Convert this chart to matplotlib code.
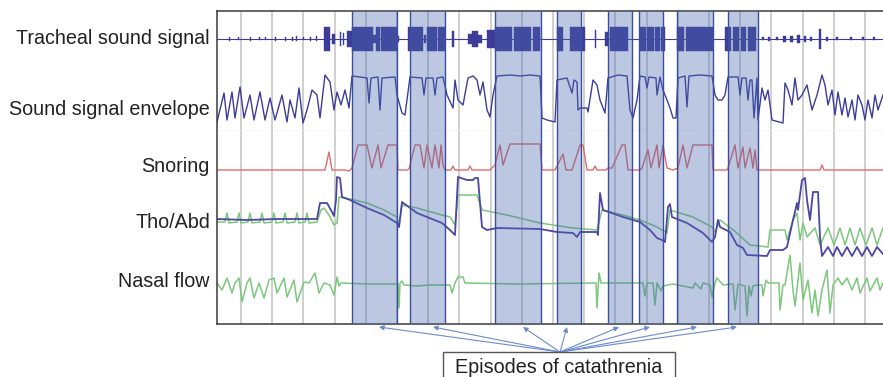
import numpy as np
import matplotlib.pyplot as plt
from matplotlib.patches import Rectangle

plt.rcParams["font.family"] = ["Liberation Sans", "DejaVu Sans"]

# time axis in seconds, one epoch grid line every 31.2 s
T_END = 666
EPOCH = 31.2

# catathrenia episodes (start, end)
episodes = [(135, 180), (193, 228), (278, 324), (340, 364),
            (391, 415), (422, 446), (460, 496), (511, 541)]
arrow_targets = [162, 216, 306, 350, 402, 433, 480, 520]

# tracheal sound: bursts (start, end, half amplitude)
sound_bursts = [
    (12, 13, 2), (21, 22, 1.5), (33, 34, 2), (42, 43, 1.5), (48, 49, 1.5),
    (58, 59, 2), (68, 69, 2), (75, 76, 2), (79, 80, 2.5), (86, 87, 1.5),
    (93, 94, 2), (99, 100, 2.5),
    (107, 113, 12), (115, 118, 5), (122.5, 123.5, 7), (126, 127, 6), (130, 135, 8),
    (135, 156, 12), (156, 159, 4), (159, 163, 12), (164, 180, 12), (180, 182, 3),
    (191, 206, 12), (207, 209, 4), (210, 220, 12), (221, 228, 12),
    (235, 236.5, 8),
    (251, 255, 5), (255, 261, 8), (261, 265, 4),
    (270, 278, 9), (278, 295, 12), (297, 314, 12), (316, 323, 12),
    (340, 346, 12), (353, 368, 12), (377.5, 379, 9), (388, 392, 7), (393, 411, 12),
    (423, 429, 12), (430, 437, 12), (438, 443, 12), (444, 448, 12),
    (460, 467, 12), (469, 496, 12),
    (508, 514, 12), (516, 522, 12), (524, 529, 12), (531, 539, 12),
    (545, 547, 1.5), (551, 553, 2), (559, 561, 1.5), (566, 569, 3), (573, 576, 3),
    (580, 583, 4), (587, 589, 3), (593, 595, 2), (602, 604, 10), (609, 611, 2),
    (619, 621, 1.5), (633, 635, 1.5), (645, 647, 1.5), (656, 658, 1.5),
]

# sound signal envelope (t, level)
envelope = [
    (0, 0), (7, 29), (10, 2), (15, 30), (18, 4), (23, 35), (27, 4), (33, 27), (37, 2),
    (43, 30), (48, 2), (53, 24), (58, 2), (65, 27), (70, 0), (73, 22), (78, 4), (82, 34),
    (86, -1), (90, 12), (95, 32), (100, 27), (103, 4), (108, 47), (113, 40), (117, 12),
    (120, 30), (124, 17), (128, 32), (132, 14), (135, 46), (143, 45), (150, 44), (152, 19),
    (154, 44), (161, 45), (163, 12), (165, 44), (178, 45), (180, 27), (185, 9), (188, 7),
    (193, 45), (205, 44), (207, 27), (209, 44), (216, 44), (218, 27), (220, 44), (226, 45),
    (230, 27), (236, 14), (238, 42), (241, 22), (246, 17), (251, 44), (256, 46), (260, 42),
    (263, 27), (266, 40), (270, 12), (273, 5), (276, 27), (280, 46), (293, 47), (303, 46),
    (313, 47), (323, 46), (325, 4), (330, 2), (338, 0), (340, 42), (350, 44), (355, 29),
    (357, 42), (360, 40), (361, 12), (363, 14), (370, 14), (371, 10), (376, 42), (380, 37),
    (383, 22), (388, 9), (391, 44), (401, 47), (410, 46), (413, 12), (416, 4), (420, 22),
    (423, 46), (428, 45), (430, 34), (432, 45), (439, 44), (440, 27), (443, 45), (446, 32),
    (450, 22), (453, 14), (456, 4), (459, 4), (461, 44), (468, 46), (470, 15), (472, 46),
    (483, 47), (495, 46), (498, 27), (501, 22), (505, 22), (508, 27), (511, 45), (521, 45),
    (523, 27), (525, 44), (529, 44), (531, 22), (533, 42), (535, 42), (537, 4), (540, 44),
    (541, 2), (545, 34), (548, 22), (551, 32), (555, 2), (566, -1), (568, 39), (571, 32),
    (575, 17), (578, 44), (581, 22), (585, 27), (590, 37), (595, 12), (600, 27), (605, 47),
    (608, 37), (611, 17), (615, 32), (618, 7), (621, 30), (625, 7), (628, 24), (631, 5),
    (635, 22), (638, 2), (641, 27), (645, 17), (648, 2), (651, 22), (655, 4), (658, 27),
    (661, 12), (666, 27),
]

# snoring detector output (t, level)
snoring = [
    (0, 0), (108, 0), (112, 18), (115, 0), (128, 0), (132, -1), (135, 2), (141, 25),
    (150, 25), (155, 2), (161, 25), (164, 2), (171, 25), (180, 25), (181, 0), (190, 0),
    (192, 1), (198, 25), (203, 25), (207, 2), (210, 25), (215, 2), (218, 25), (222, 2),
    (224, 25), (226, 5), (228, 0), (234, 0), (236, 4), (238, 0), (251, 0), (253, 4),
    (255, 0), (273, 0), (278, 5), (283, 25), (286, 5), (293, 26), (323, 26), (325, 0),
    (338, 0), (346, 16), (349, 0), (355, 0), (363, 25), (366, 25), (370, 0), (376, 0),
    (378, 4), (380, 0), (389, 0), (391, 2), (395, 2), (405, 25), (408, 25), (411, 0),
    (423, 0), (425, 2), (431, 20), (434, 2), (440, 25), (442, 2), (446, 25), (450, 2),
    (456, 0), (461, 2), (466, 25), (470, 2), (476, 25), (495, 25), (496, 0), (510, 0),
    (511, 2), (518, 25), (521, 2), (526, 23), (528, 2), (533, 22), (536, 2), (538, 20),
    (540, 0), (603, 0), (605, 5), (607, 0), (666, 0),
]

# thoracic effort (t, level)
thorax = [
    (0, 1), (30, 0), (60, 1), (100, 1), (103, 17), (110, 17), (115, 8), (117, 4),
    (119, 20), (120, 43), (123, 42), (125, 23), (133, 20), (150, 12), (167, 5), (180, -3),
    (182, -7), (185, 18), (200, 7), (225, -3), (233, -10), (238, -15), (241, 43), (250, 40),
    (256, 40), (258, 42), (261, 42), (265, -7), (270, -10), (280, -8), (323, -9), (340, -12),
    (356, -13), (360, -17), (363, -12), (380, -12), (381, -15), (383, 27), (386, 10),
    (406, 3), (423, -2), (433, -10), (440, -18), (445, -20), (448, -22), (451, 13),
    (453, 16), (455, 3), (470, -3), (486, -13), (495, -22), (498, -17), (501, 0), (503, -7),
    (513, -12), (520, -25), (526, -28), (530, -35), (550, -36), (553, -30), (566, -30),
    (570, -27), (576, 0), (580, 17), (581, 10), (585, 40), (588, 42), (590, 20), (593, 0),
    (596, 28), (601, 28), (603, -17), (605, -36), (611, -27), (616, -36), (620, -27),
    (625, -36), (630, -27), (635, -36), (640, -27), (645, -36), (650, -27), (655, -36),
    (660, -27), (666, -34),
]

# abdominal effort (t, level)
abdomen = [
    (0, -2), (8, -2), (10, 7), (12, -3), (20, -2), (22, 7), (24, -3), (31, -2), (33, 7),
    (35, -3), (43, -2), (45, 7), (47, -3), (55, -2), (57, 7), (59, -3), (66, -2), (68, 7),
    (70, -3), (78, -2), (80, 7), (82, -3), (88, -2), (90, 7), (92, -3), (100, -2),
    (104, 10), (107, 12), (112, 5), (117, -5), (120, -3), (122, 23), (133, 21), (150, 17),
    (167, 10), (180, 3), (182, -7), (185, 15), (200, 12), (225, 5), (233, 3), (238, -5),
    (241, 25), (260, 25), (265, 10), (290, 5), (323, -3), (356, -8), (380, -10), (385, 10),
    (406, 5), (423, 0), (440, -7), (445, -10), (450, -13), (453, 10), (476, 3), (495, -7),
    (498, -12), (503, 0), (520, -13), (533, -25), (551, -27), (553, -10), (568, -10),
    (570, -20), (576, 0), (580, 7), (583, -20), (586, -3), (590, -17), (598, -8),
    (603, -25), (611, -8), (617, -25), (623, -8), (628, -25), (633, -8), (638, -25),
    (643, -8), (649, -25), (655, -8), (660, -25), (666, -8),
]

# nasal airflow (t, level)
nasal = [
    (0, 0), (5, -7), (10, 5), (15, -10), (18, 0), (22, 5), (25, -19), (30, 0), (33, 5),
    (37, -15), (42, 0), (47, -15), (52, 3), (57, 5), (60, -10), (67, 5), (70, -14), (77, 3),
    (80, -19), (87, 1), (92, 0), (98, 10), (102, -10), (107, 0), (113, -2), (117, -12),
    (120, 6), (122, -3), (124, 0), (150, -1), (181, -1), (182, -25), (183, 0), (185, 2),
    (187, -2), (200, -3), (213, -2), (233, -2), (235, -10), (238, 0), (241, 6), (246, 6),
    (248, 0), (300, -1), (379, 0), (380, -25), (382, 10), (384, 0), (426, 0), (428, -13),
    (430, 0), (436, 0), (438, -22), (440, 0), (444, -8), (446, -3), (456, -1), (476, -5),
    (478, 0), (484, -6), (486, 0), (493, -2), (495, -14), (498, 0), (500, 5), (506, -2),
    (516, -1), (518, -27), (521, -1), (528, -3), (530, -33), (532, -3), (534, -13),
    (536, -3), (541, -2), (545, -2), (546, -13), (549, 3), (551, 0), (562, 0), (563, -27),
    (566, -2), (568, -2), (573, 28), (576, -7), (578, -23), (583, 20), (586, -17), (591, 3),
    (595, -30), (598, -7), (601, -33), (605, -7), (610, 13), (613, -30), (616, -2),
    (621, 5), (625, -2), (630, 5), (635, -7), (640, 5), (643, -10), (650, 5), (653, -8),
    (660, 5), (663, -7), (666, 0),
]

channel_names = ["Tracheal sound signal", "Sound signal envelope", "Snoring",
                 "Tho/Abd", "Nasal flow"]

# vertical offset of each channel
Y_SOUND, Y_ENV, Y_SNORE, Y_EFFORT, Y_NASAL = 285.5, 202, 154, 104, 41
label_baselines = [279.7, 209, 152.3, 95.7, 37.3]

C_BLUE = "#3d3d99"
C_THO = "#4c46a3"
C_GREEN = "#7cc77c"
C_RED = "#e26a6a"

fig = plt.figure(figsize=(8.83, 3.77), dpi=100)
ax = fig.add_axes([217 / 883, 53 / 377, 666 / 883, 313 / 377])
ax.set_xlim(0, T_END)
ax.set_ylim(0, 313)

# epoch grid
for x in np.arange(24, T_END, EPOCH):
    ax.axvline(x, color="#cbcbcb", lw=1.3, zorder=1)
ax.axhline(194, color="#ececec", lw=0.8, ls=":", zorder=1)

# tracheal sound bursts
ax.axhline(Y_SOUND, color=C_BLUE, lw=0.8, zorder=2)
b = np.array(sound_bursts)
ax.bar(b[:, 0], 2 * b[:, 2], width=b[:, 1] - b[:, 0], bottom=Y_SOUND - b[:, 2],
       align="edge", color=C_BLUE, edgecolor=C_BLUE, lw=0.3, zorder=2)

def trace(data, offset, color, lw):
    d = np.array(data, dtype=float)
    ax.plot(d[:, 0], d[:, 1] + offset, color=color, lw=lw, zorder=2,
            solid_joinstyle="round")

trace(envelope, Y_ENV, C_BLUE, 1.0)
trace(snoring, Y_SNORE, C_RED, 1.0)
trace(abdomen, Y_EFFORT, C_GREEN, 1.1)
trace(thorax, Y_EFFORT, C_THO, 1.3)
trace(nasal, Y_NASAL, C_GREEN, 1.1)

# catathrenia episodes
for s, e in episodes:
    ax.axvspan(s, e, facecolor="#4a68ae", alpha=0.37, edgecolor="none", zorder=3)
    ax.axvline(s, color="#3b4f9c", lw=1.0, zorder=3)
    ax.axvline(e, color="#3b4f9c", lw=1.0, zorder=3)

for spine in ["left", "top", "bottom"]:
    ax.spines[spine].set_color("#3a3a3a")
    ax.spines[spine].set_linewidth(1.1)
ax.spines["right"].set_visible(False)
ax.set_xticks([])
ax.set_yticks([])

for name, yb in zip(channel_names, label_baselines):
    ax.text(-7, yb, name, ha="right", va="baseline", fontsize=14.2,
            color="#222222", clip_on=False)

# annotation box with arrows to every episode
for xt in arrow_targets:
    ax.annotate("", xy=(xt, -3), xytext=(343, -28), annotation_clip=False,
                arrowprops=dict(arrowstyle="-|>", color="#6d8bcf", lw=0.8,
                                mutation_scale=7, shrinkA=0, shrinkB=0))
ax.add_patch(Rectangle((226, -75), 232, 47, facecolor="white",
                       edgecolor="#555555", lw=1.0, clip_on=False, zorder=4))
ax.text(342, -49.3, "Episodes of catathrenia", ha="center", va="baseline",
        fontsize=14.2, color="#222222", zorder=5)

fig.savefig("out.png", dpi=100)
